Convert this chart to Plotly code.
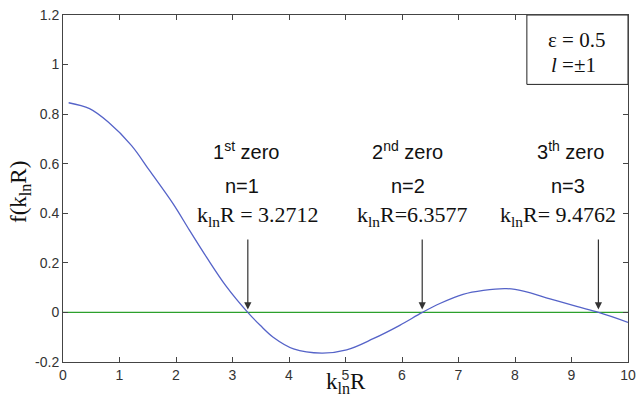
import plotly.graph_objects as go

# Curve values
k_vals = [0.1, 0.47, 0.80, 1.21, 1.53, 1.95, 2.24, 2.54, 2.89, 3.27, 3.49, 3.72, 4.08,
          4.58, 5.02, 5.49, 5.96, 6.36, 6.67, 7.08, 7.44, 7.85, 8.15, 8.62, 9.09, 9.48, 10.0]
f_vals = [0.846, 0.822, 0.768, 0.674, 0.573, 0.438, 0.331, 0.223, 0.105, 0.0, -0.052, -0.100,
          -0.147, -0.164, -0.151, -0.106, -0.052, 0.0, 0.036, 0.073, 0.089, 0.096, 0.086,
          0.055, 0.024, 0.0, -0.04]

zero_x = [0.0, 10.0]
zero_y = [0.0, 0.0]

zeros = [3.2712, 6.3577, 9.4762]
zero_titles = ["1<sup>st</sup> zero", "2<sup>nd</sup> zero", "3<sup>th</sup> zero"]
zero_n = ["n=1", "n=2", "n=3"]
zero_k = ["k<sub>ln</sub>R = 3.2712", "k<sub>ln</sub>R=6.3577", "k<sub>ln</sub>R= 9.4762"]
title_x = [3.24, 6.09, 8.99]
n_x = [3.17, 6.11, 8.94]
k_x = [3.45, 6.19, 8.76]

x_ticks = [0, 1, 2, 3, 4, 5, 6, 7, 8, 9, 10]
y_ticks = [-0.2, 0, 0.2, 0.4, 0.6, 0.8, 1, 1.2]
y_tick_text = ["-0.2", "0", "0.2", "0.4", "0.6", "0.8", "1", "1.2"]

SANS = "Liberation Sans, Arial, sans-serif"
SERIF = "Liberation Serif, Times New Roman, serif"

fig = go.Figure()
fig.add_trace(go.Scatter(x=zero_x, y=zero_y, mode="lines",
                         line=dict(color="#2ca02c", width=1.3), hoverinfo="skip"))
fig.add_trace(go.Scatter(x=k_vals, y=f_vals, mode="lines", line_shape="spline",
                         line=dict(color="#5563c8", width=1.3)))

# legend-like box
fig.add_shape(type="rect", x0=8.21, x1=10, y0=0.92, y1=1.2, xref="x", yref="y",
              line=dict(color="#222", width=1), fillcolor="white", layer="above")
fig.add_annotation(x=9.08, y=1.100, text="ε = 0.5", showarrow=False,
                   font=dict(family=SERIF, size=21, color="#111"))
fig.add_annotation(x=9.04, y=0.998, text="<i>l</i> =±1", showarrow=False,
                   font=dict(family=SERIF, size=21, color="#111"))

for i, z in enumerate(zeros):
    fig.add_annotation(x=title_x[i], y=0.655, text=zero_titles[i], showarrow=False,
                       font=dict(family=SANS, size=20, color="#111"))
    fig.add_annotation(x=n_x[i], y=0.51, text=zero_n[i], showarrow=False,
                       font=dict(family=SANS, size=20, color="#111"))
    fig.add_annotation(x=k_x[i], y=0.39, text=zero_k[i], showarrow=False,
                       font=dict(family=SERIF, size=22, color="#111"))
    fig.add_annotation(x=z, y=0.012, ax=z, ay=0.30, xref="x", yref="y",
                       axref="x", ayref="y", text="", showarrow=True,
                       arrowhead=2, arrowsize=1.2, arrowwidth=1.2, arrowcolor="#333")

# axis titles
fig.add_annotation(x=0.5, y=-0.06, xref="paper", yref="paper", text="k<sub>ln</sub>R",
                   showarrow=False, yanchor="middle",
                   font=dict(family=SERIF, size=23, color="#111"))
fig.add_annotation(x=-0.076, y=0.49, xref="paper", yref="paper", text="f(k<sub>ln</sub>R)",
                   showarrow=False, textangle=-90, xanchor="center", yanchor="middle",
                   font=dict(family=SERIF, size=23, color="#111"))

fig.update_layout(
    width=636, height=396,
    margin=dict(l=63, r=8, t=15, b=34),
    paper_bgcolor="white", plot_bgcolor="white",
    showlegend=False,
    xaxis=dict(range=[0, 10], tickvals=x_ticks, ticks="inside", ticklen=5,
               showgrid=False, zeroline=False, showline=True, linecolor="#444",
               linewidth=1, mirror="allticks", tickcolor="#444", automargin=False,
               tickfont=dict(family=SANS, size=14, color="#333")),
    yaxis=dict(range=[-0.2, 1.2], tickvals=y_ticks, ticktext=y_tick_text, ticks="inside",
               ticklen=5, showgrid=False, zeroline=False, showline=True, linecolor="#444",
               linewidth=1, mirror="allticks", tickcolor="#444", automargin=False,
               tickfont=dict(family=SANS, size=14, color="#333")),
)

# remove the page's default body margin so the figure fills the window exactly
fig.write_html("out.html", config={"displayModeBar": False},
               post_script="document.body.style.margin='0';document.body.style.overflow='hidden';")
